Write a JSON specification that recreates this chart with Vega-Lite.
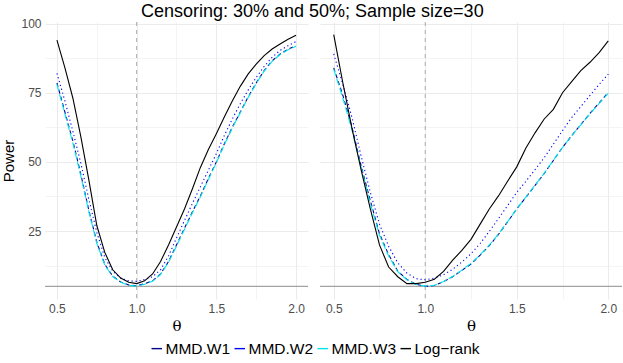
{
  "$schema": "https://vega.github.io/schema/vega-lite/v6.json",
  "background": "white",
  "padding": {"left": 1, "top": 2, "right": 2, "bottom": 0},
  "title": {"text": "Censoring: 30% and 50%; Sample size=30", "fontSize": 18, "font": "Liberation Sans", "fontWeight": "normal", "anchor": "middle", "color": "#000000", "offset": -3.3},
  "datasets": {
    "hline": [{"h": 5}],
    "vline": [{"r": 1}],
    "cens30": [
      {"t":0.5,"m":"MMD.W1","v":78.5},{"t":0.55,"m":"MMD.W1","v":68},{"t":0.6,"m":"MMD.W1","v":57.5},{"t":0.65,"m":"MMD.W1","v":45.5},{"t":0.7,"m":"MMD.W1","v":32.5},{"t":0.75,"m":"MMD.W1","v":21},{"t":0.8,"m":"MMD.W1","v":13},{"t":0.85,"m":"MMD.W1","v":8.7},{"t":0.9,"m":"MMD.W1","v":6.6},{"t":0.95,"m":"MMD.W1","v":5.5},{"t":1.0,"m":"MMD.W1","v":5.2},{"t":1.05,"m":"MMD.W1","v":6},{"t":1.1,"m":"MMD.W1","v":7},{"t":1.15,"m":"MMD.W1","v":9.5},{"t":1.2,"m":"MMD.W1","v":14},{"t":1.25,"m":"MMD.W1","v":20},{"t":1.3,"m":"MMD.W1","v":26},{"t":1.35,"m":"MMD.W1","v":32},{"t":1.4,"m":"MMD.W1","v":37.7},{"t":1.45,"m":"MMD.W1","v":44},{"t":1.5,"m":"MMD.W1","v":50},{"t":1.55,"m":"MMD.W1","v":56.5},{"t":1.6,"m":"MMD.W1","v":62.5},{"t":1.65,"m":"MMD.W1","v":68},{"t":1.7,"m":"MMD.W1","v":73.5},{"t":1.75,"m":"MMD.W1","v":78.5},{"t":1.8,"m":"MMD.W1","v":83},{"t":1.85,"m":"MMD.W1","v":86.5},{"t":1.9,"m":"MMD.W1","v":89},{"t":1.95,"m":"MMD.W1","v":90.7},{"t":2.0,"m":"MMD.W1","v":92},
      {"t":0.5,"m":"MMD.W2","v":82},{"t":0.55,"m":"MMD.W2","v":72},{"t":0.6,"m":"MMD.W2","v":61},{"t":0.65,"m":"MMD.W2","v":49.5},{"t":0.7,"m":"MMD.W2","v":36.5},{"t":0.75,"m":"MMD.W2","v":24.5},{"t":0.8,"m":"MMD.W2","v":15.5},{"t":0.85,"m":"MMD.W2","v":10.5},{"t":0.9,"m":"MMD.W2","v":8},{"t":0.95,"m":"MMD.W2","v":7},{"t":1.0,"m":"MMD.W2","v":6.8},{"t":1.05,"m":"MMD.W2","v":7.5},{"t":1.1,"m":"MMD.W2","v":8.5},{"t":1.15,"m":"MMD.W2","v":11},{"t":1.2,"m":"MMD.W2","v":16},{"t":1.25,"m":"MMD.W2","v":22.5},{"t":1.3,"m":"MMD.W2","v":28.8},{"t":1.35,"m":"MMD.W2","v":35},{"t":1.4,"m":"MMD.W2","v":41},{"t":1.45,"m":"MMD.W2","v":47},{"t":1.5,"m":"MMD.W2","v":53},{"t":1.55,"m":"MMD.W2","v":59.5},{"t":1.6,"m":"MMD.W2","v":65.5},{"t":1.65,"m":"MMD.W2","v":71},{"t":1.7,"m":"MMD.W2","v":76},{"t":1.75,"m":"MMD.W2","v":80.5},{"t":1.8,"m":"MMD.W2","v":84.5},{"t":1.85,"m":"MMD.W2","v":87.8},{"t":1.9,"m":"MMD.W2","v":90.3},{"t":1.95,"m":"MMD.W2","v":92},{"t":2.0,"m":"MMD.W2","v":93.5},
      {"t":0.5,"m":"MMD.W3","v":78},{"t":0.55,"m":"MMD.W3","v":67.3},{"t":0.6,"m":"MMD.W3","v":56.8},{"t":0.65,"m":"MMD.W3","v":44.8},{"t":0.7,"m":"MMD.W3","v":32},{"t":0.75,"m":"MMD.W3","v":20.6},{"t":0.8,"m":"MMD.W3","v":12.7},{"t":0.85,"m":"MMD.W3","v":8.5},{"t":0.9,"m":"MMD.W3","v":6.5},{"t":0.95,"m":"MMD.W3","v":5.4},{"t":1.0,"m":"MMD.W3","v":5.1},{"t":1.05,"m":"MMD.W3","v":5.8},{"t":1.1,"m":"MMD.W3","v":6.9},{"t":1.15,"m":"MMD.W3","v":9.3},{"t":1.2,"m":"MMD.W3","v":13.7},{"t":1.25,"m":"MMD.W3","v":19.6},{"t":1.3,"m":"MMD.W3","v":25.6},{"t":1.35,"m":"MMD.W3","v":31.6},{"t":1.4,"m":"MMD.W3","v":37.4},{"t":1.45,"m":"MMD.W3","v":43.6},{"t":1.5,"m":"MMD.W3","v":49.7},{"t":1.55,"m":"MMD.W3","v":56.2},{"t":1.6,"m":"MMD.W3","v":62.2},{"t":1.65,"m":"MMD.W3","v":67.8},{"t":1.7,"m":"MMD.W3","v":73.3},{"t":1.75,"m":"MMD.W3","v":78.3},{"t":1.8,"m":"MMD.W3","v":82.8},{"t":1.85,"m":"MMD.W3","v":86.3},{"t":1.9,"m":"MMD.W3","v":88.8},{"t":1.95,"m":"MMD.W3","v":90.5},{"t":2.0,"m":"MMD.W3","v":91.8},
      {"t":0.5,"m":"Log−rank","v":94},{"t":0.55,"m":"Log−rank","v":84},{"t":0.6,"m":"Log−rank","v":73},{"t":0.65,"m":"Log−rank","v":59},{"t":0.7,"m":"Log−rank","v":43.5},{"t":0.75,"m":"Log−rank","v":27},{"t":0.8,"m":"Log−rank","v":17.3},{"t":0.85,"m":"Log−rank","v":11},{"t":0.9,"m":"Log−rank","v":8},{"t":0.95,"m":"Log−rank","v":6.5},{"t":1.0,"m":"Log−rank","v":6},{"t":1.05,"m":"Log−rank","v":7},{"t":1.1,"m":"Log−rank","v":9.5},{"t":1.15,"m":"Log−rank","v":14},{"t":1.2,"m":"Log−rank","v":20},{"t":1.25,"m":"Log−rank","v":26.5},{"t":1.3,"m":"Log−rank","v":33},{"t":1.35,"m":"Log−rank","v":40.3},{"t":1.4,"m":"Log−rank","v":48},{"t":1.45,"m":"Log−rank","v":54.5},{"t":1.5,"m":"Log−rank","v":60.2},{"t":1.55,"m":"Log−rank","v":66.2},{"t":1.6,"m":"Log−rank","v":72},{"t":1.65,"m":"Log−rank","v":77.3},{"t":1.7,"m":"Log−rank","v":81.8},{"t":1.75,"m":"Log−rank","v":85.3},{"t":1.8,"m":"Log−rank","v":88.4},{"t":1.85,"m":"Log−rank","v":90.8},{"t":1.9,"m":"Log−rank","v":92.6},{"t":1.95,"m":"Log−rank","v":94.3},{"t":2.0,"m":"Log−rank","v":95.8}
    ],
    "cens50": [
      {"t":0.5,"m":"MMD.W1","v":84},{"t":0.55,"m":"MMD.W1","v":74},{"t":0.6,"m":"MMD.W1","v":62.5},{"t":0.65,"m":"MMD.W1","v":48.5},{"t":0.7,"m":"MMD.W1","v":36},{"t":0.75,"m":"MMD.W1","v":24},{"t":0.8,"m":"MMD.W1","v":16.5},{"t":0.85,"m":"MMD.W1","v":10.5},{"t":0.9,"m":"MMD.W1","v":7.5},{"t":0.95,"m":"MMD.W1","v":5.8},{"t":1.0,"m":"MMD.W1","v":5},{"t":1.05,"m":"MMD.W1","v":5.3},{"t":1.1,"m":"MMD.W1","v":6.7},{"t":1.15,"m":"MMD.W1","v":8.5},{"t":1.2,"m":"MMD.W1","v":10.8},{"t":1.25,"m":"MMD.W1","v":13.1},{"t":1.3,"m":"MMD.W1","v":16.3},{"t":1.35,"m":"MMD.W1","v":19.7},{"t":1.4,"m":"MMD.W1","v":23.8},{"t":1.45,"m":"MMD.W1","v":28.3},{"t":1.5,"m":"MMD.W1","v":33},{"t":1.55,"m":"MMD.W1","v":37.2},{"t":1.6,"m":"MMD.W1","v":41.5},{"t":1.65,"m":"MMD.W1","v":45.8},{"t":1.7,"m":"MMD.W1","v":50.5},{"t":1.75,"m":"MMD.W1","v":55.2},{"t":1.8,"m":"MMD.W1","v":59.5},{"t":1.85,"m":"MMD.W1","v":63.5},{"t":1.9,"m":"MMD.W1","v":67.5},{"t":1.95,"m":"MMD.W1","v":71.3},{"t":2.0,"m":"MMD.W1","v":75.1},
      {"t":0.5,"m":"MMD.W2","v":89},{"t":0.55,"m":"MMD.W2","v":78},{"t":0.6,"m":"MMD.W2","v":66},{"t":0.65,"m":"MMD.W2","v":52},{"t":0.7,"m":"MMD.W2","v":39},{"t":0.75,"m":"MMD.W2","v":27.5},{"t":0.8,"m":"MMD.W2","v":19.5},{"t":0.85,"m":"MMD.W2","v":13.5},{"t":0.9,"m":"MMD.W2","v":9.8},{"t":0.95,"m":"MMD.W2","v":7.8},{"t":1.0,"m":"MMD.W2","v":7.4},{"t":1.05,"m":"MMD.W2","v":8},{"t":1.1,"m":"MMD.W2","v":9.2},{"t":1.15,"m":"MMD.W2","v":11.2},{"t":1.2,"m":"MMD.W2","v":13.8},{"t":1.25,"m":"MMD.W2","v":16.8},{"t":1.3,"m":"MMD.W2","v":20.5},{"t":1.35,"m":"MMD.W2","v":24.9},{"t":1.4,"m":"MMD.W2","v":29.5},{"t":1.45,"m":"MMD.W2","v":34.2},{"t":1.5,"m":"MMD.W2","v":39},{"t":1.55,"m":"MMD.W2","v":43},{"t":1.6,"m":"MMD.W2","v":47.2},{"t":1.65,"m":"MMD.W2","v":51.5},{"t":1.7,"m":"MMD.W2","v":56.4},{"t":1.75,"m":"MMD.W2","v":61.3},{"t":1.8,"m":"MMD.W2","v":66},{"t":1.85,"m":"MMD.W2","v":70},{"t":1.9,"m":"MMD.W2","v":74},{"t":1.95,"m":"MMD.W2","v":78},{"t":2.0,"m":"MMD.W2","v":81.7},
      {"t":0.5,"m":"MMD.W3","v":83.5},{"t":0.55,"m":"MMD.W3","v":73},{"t":0.6,"m":"MMD.W3","v":61.5},{"t":0.65,"m":"MMD.W3","v":48},{"t":0.7,"m":"MMD.W3","v":35},{"t":0.75,"m":"MMD.W3","v":23.5},{"t":0.8,"m":"MMD.W3","v":16},{"t":0.85,"m":"MMD.W3","v":10.3},{"t":0.9,"m":"MMD.W3","v":7.4},{"t":0.95,"m":"MMD.W3","v":5.7},{"t":1.0,"m":"MMD.W3","v":5.1},{"t":1.05,"m":"MMD.W3","v":5.4},{"t":1.1,"m":"MMD.W3","v":6.8},{"t":1.15,"m":"MMD.W3","v":8.6},{"t":1.2,"m":"MMD.W3","v":10.9},{"t":1.25,"m":"MMD.W3","v":13.3},{"t":1.3,"m":"MMD.W3","v":16.4},{"t":1.35,"m":"MMD.W3","v":19.9},{"t":1.4,"m":"MMD.W3","v":23.9},{"t":1.45,"m":"MMD.W3","v":28.4},{"t":1.5,"m":"MMD.W3","v":33},{"t":1.55,"m":"MMD.W3","v":37.3},{"t":1.6,"m":"MMD.W3","v":41.6},{"t":1.65,"m":"MMD.W3","v":45.9},{"t":1.7,"m":"MMD.W3","v":50.6},{"t":1.75,"m":"MMD.W3","v":55.2},{"t":1.8,"m":"MMD.W3","v":59.4},{"t":1.85,"m":"MMD.W3","v":63.4},{"t":1.9,"m":"MMD.W3","v":67.3},{"t":1.95,"m":"MMD.W3","v":71.1},{"t":2.0,"m":"MMD.W3","v":74.8},
      {"t":0.5,"m":"Log−rank","v":96},{"t":0.55,"m":"Log−rank","v":78.5},{"t":0.6,"m":"Log−rank","v":62},{"t":0.65,"m":"Log−rank","v":47},{"t":0.7,"m":"Log−rank","v":33},{"t":0.75,"m":"Log−rank","v":20},{"t":0.8,"m":"Log−rank","v":12},{"t":0.85,"m":"Log−rank","v":8.5},{"t":0.9,"m":"Log−rank","v":6},{"t":0.95,"m":"Log−rank","v":6},{"t":1.0,"m":"Log−rank","v":6.5},{"t":1.05,"m":"Log−rank","v":7.6},{"t":1.1,"m":"Log−rank","v":10.4},{"t":1.15,"m":"Log−rank","v":14.5},{"t":1.2,"m":"Log−rank","v":18},{"t":1.25,"m":"Log−rank","v":22},{"t":1.3,"m":"Log−rank","v":27.5},{"t":1.35,"m":"Log−rank","v":33},{"t":1.4,"m":"Log−rank","v":37.7},{"t":1.45,"m":"Log−rank","v":43},{"t":1.5,"m":"Log−rank","v":48.2},{"t":1.55,"m":"Log−rank","v":55},{"t":1.6,"m":"Log−rank","v":60.5},{"t":1.65,"m":"Log−rank","v":65.5},{"t":1.7,"m":"Log−rank","v":69},{"t":1.75,"m":"Log−rank","v":75},{"t":1.8,"m":"Log−rank","v":79},{"t":1.85,"m":"Log−rank","v":83},{"t":1.9,"m":"Log−rank","v":86},{"t":1.95,"m":"Log−rank","v":89.5},{"t":2.0,"m":"Log−rank","v":93.7}
    ]
  },
  "spacing": 10,
  "hconcat": [
    {
      "width": 263,
      "height": 277,
      "encoding": {
        "x": {"type": "quantitative", "title": "θ",
              "scale": {"domain": [0.425, 2.075], "nice": false, "zero": false},
              "axis": {"values": [0.5, 0.75, 1, 1.25, 1.5, 1.75, 2],
                       "labelExpr": "round(datum.value*2) == datum.value*2 ? format(datum.value, '.1f') : ''",
                       "gridWidth": {"condition": {"test": "round(datum.value*2) == datum.value*2", "value": 1.1}, "value": 0.55}}},
        "y": {"type": "quantitative", "title": "Power",
              "scale": {"domain": [0.45, 100.55], "nice": false, "zero": false},
              "axis": {"values": [12.5, 25, 37.5, 50, 62.5, 75, 87.5, 100],
                       "labelExpr": "datum.value % 25 == 0 ? format(datum.value, 'd') : ''",
                       "gridWidth": {"condition": {"test": "datum.value % 25 == 0", "value": 1.1}, "value": 0.55}}},
        "color": {"field": "m", "type": "nominal",
                  "scale": {"domain": ["MMD.W1", "MMD.W2", "MMD.W3", "Log−rank"], "range": ["#00008B", "#0000FF", "#00E5EE", "#000000"]},
                  "legend": {"orient": "none", "legendX": 104, "legendY": 318.5, "direction": "horizontal", "title": null}}
      },
      "layer": [
        {"data": {"name": "hline"}, "mark": {"type": "rule", "color": "#A3A3A3", "strokeWidth": 1.2}, "encoding": {"y": {"field": "h"}, "color": {"value": "#A3A3A3"}}},
        {"data": {"name": "vline"}, "mark": {"type": "rule", "color": "#ABABAB", "strokeWidth": 1, "strokeDash": [4, 4]}, "encoding": {"x": {"field": "r"}, "color": {"value": "#ABABAB"}}},
        {"data": {"name": "cens30"}, "transform": [{"filter": "datum.m == 'MMD.W1'"}], "mark": {"type": "line", "strokeWidth": 1.1, "strokeDash": [4, 3]}, "encoding": {"x": {"field": "t"}, "y": {"field": "v"}}},
        {"data": {"name": "cens30"}, "transform": [{"filter": "datum.m == 'MMD.W2'"}], "mark": {"type": "line", "strokeWidth": 1.1, "strokeDash": [1.2, 2.8]}, "encoding": {"x": {"field": "t"}, "y": {"field": "v"}}},
        {"data": {"name": "cens30"}, "transform": [{"filter": "datum.m == 'MMD.W3'"}], "mark": {"type": "line", "strokeWidth": 1.1, "strokeDash": [7, 3]}, "encoding": {"x": {"field": "t"}, "y": {"field": "v"}}},
        {"data": {"name": "cens30"}, "transform": [{"filter": "datum.m == 'Log−rank'"}], "mark": {"type": "line", "strokeWidth": 1.1}, "encoding": {"x": {"field": "t"}, "y": {"field": "v"}}}
      ]
    },
    {
      "width": 302,
      "height": 277,
      "encoding": {
        "x": {"type": "quantitative", "title": "θ",
              "scale": {"domain": [0.425, 2.075], "nice": false, "zero": false},
              "axis": {"values": [0.5, 0.75, 1, 1.25, 1.5, 1.75, 2],
                       "labelExpr": "round(datum.value*2) == datum.value*2 ? format(datum.value, '.1f') : ''",
                       "gridWidth": {"condition": {"test": "round(datum.value*2) == datum.value*2", "value": 1.1}, "value": 0.55}}},
        "y": {"type": "quantitative", "title": null,
              "scale": {"domain": [0.45, 100.55], "nice": false, "zero": false},
              "axis": {"values": [12.5, 25, 37.5, 50, 62.5, 75, 87.5, 100], "labels": false,
                       "gridWidth": {"condition": {"test": "datum.value % 25 == 0", "value": 1.1}, "value": 0.55}}},
        "color": {"field": "m", "type": "nominal",
                  "scale": {"domain": ["MMD.W1", "MMD.W2", "MMD.W3", "Log−rank"], "range": ["#00008B", "#0000FF", "#00E5EE", "#000000"]},
                  "legend": {"orient": "none", "legendX": 104, "legendY": 318.5, "direction": "horizontal", "title": null}}
      },
      "layer": [
        {"data": {"name": "hline"}, "mark": {"type": "rule", "color": "#A3A3A3", "strokeWidth": 1.2}, "encoding": {"y": {"field": "h"}, "color": {"value": "#A3A3A3"}}},
        {"data": {"name": "vline"}, "mark": {"type": "rule", "color": "#ABABAB", "strokeWidth": 1, "strokeDash": [4, 4]}, "encoding": {"x": {"field": "r"}, "color": {"value": "#ABABAB"}}},
        {"data": {"name": "cens50"}, "transform": [{"filter": "datum.m == 'MMD.W1'"}], "mark": {"type": "line", "strokeWidth": 1.1, "strokeDash": [4, 3]}, "encoding": {"x": {"field": "t"}, "y": {"field": "v"}}},
        {"data": {"name": "cens50"}, "transform": [{"filter": "datum.m == 'MMD.W2'"}], "mark": {"type": "line", "strokeWidth": 1.1, "strokeDash": [1.2, 2.8]}, "encoding": {"x": {"field": "t"}, "y": {"field": "v"}}},
        {"data": {"name": "cens50"}, "transform": [{"filter": "datum.m == 'MMD.W3'"}], "mark": {"type": "line", "strokeWidth": 1.1, "strokeDash": [7, 3]}, "encoding": {"x": {"field": "t"}, "y": {"field": "v"}}},
        {"data": {"name": "cens50"}, "transform": [{"filter": "datum.m == 'Log−rank'"}], "mark": {"type": "line", "strokeWidth": 1.1}, "encoding": {"x": {"field": "t"}, "y": {"field": "v"}}}
      ]
    }
  ],
  "config": {
    "view": {"stroke": null},
    "axis": {
      "domain": false,
      "ticks": false,
      "grid": true,
      "gridColor": "#EBEBEB",
      "labelColor": "#4D4D4D",
      "labelFont": "Liberation Sans",
      "labelFontSize": 12,
      "labelPadding": 4,
      "labelFlush": false,
      "labelOverlap": false,
      "titleFont": "Liberation Sans",
      "titleFontSize": 15,
      "titleFontWeight": "normal",
      "titleColor": "#000000"
    },
    "axisX": {"titleFont": "DejaVu Serif", "titlePadding": 4},
    "axisY": {"titlePadding": 4},
    "legend": {
      "symbolType": "stroke",
      "symbolSize": 110,
      "symbolStrokeWidth": 1.4,
      "labelFont": "Liberation Sans",
      "labelFontSize": 15.5,
      "labelColor": "#000000",
      "labelOffset": 1,
      "columnPadding": 0,
      "padding": 0
    }
  }
}
